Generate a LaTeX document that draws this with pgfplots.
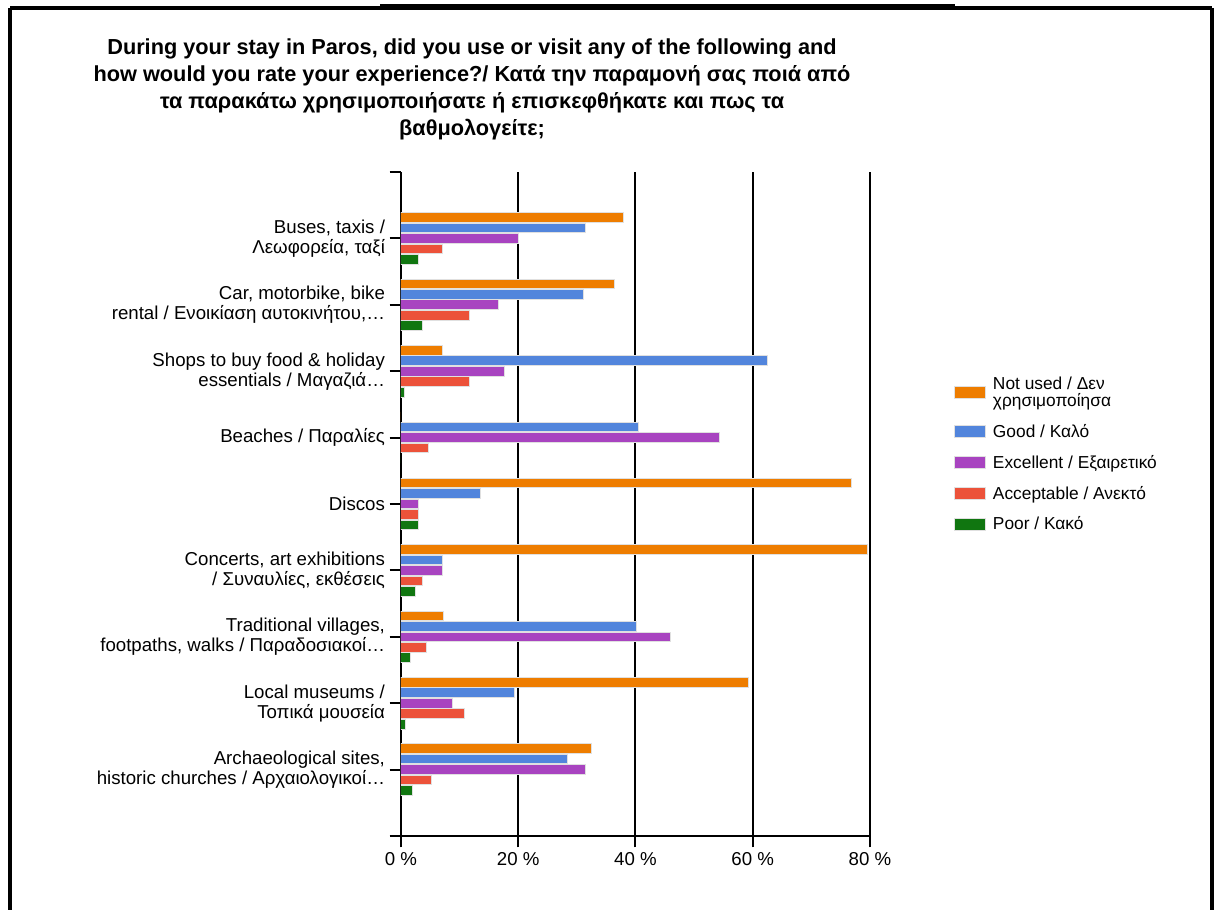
\documentclass[border=0pt]{standalone}
\usepackage{pgfplots}
\pgfplotsset{compat=1.18}
\usepackage{pgfplotstable}
\usepackage{fontspec}
\setmainfont{Liberation Sans}

\definecolor{cOrange}{RGB}{238,125,0}
\definecolor{cBlue}{RGB}{82,133,220}
\definecolor{cPurple}{RGB}{168,68,192}
\definecolor{cRed}{RGB}{236,82,58}
\definecolor{cGreen}{RGB}{16,118,16}

\pgfplotstableread{
cat notused good excellent acceptable poor
0 37.9 31.5 20.1 7.1 3.0
1 36.4 31.2 16.6 11.7 3.7
2 7.1 62.6 17.6 11.7 0.6
3 0.0 40.5 54.4 4.7 0.0
4 76.8 13.5 3.0 3.0 3.0
5 79.6 7.1 7.1 3.7 2.4
6 7.3 40.2 45.9 4.4 1.6
7 59.3 19.3 8.8 10.9 0.8
8 32.5 28.4 31.5 5.2 1.9
}\datatable

\begin{document}
\begin{tikzpicture}
\useasboundingbox (0,0) rectangle (913.5pt,-682.5pt);
% frame
\draw[line width=2.5pt] (7.5pt,-6pt) -- (909pt,-6pt);
\draw[line width=3pt] (285pt,-4.5pt) -- (716pt,-4.5pt);
\draw[line width=2.5pt] (7.5pt,-6pt) -- (7.5pt,-682.5pt);
\draw[line width=2.5pt] (909pt,-6pt) -- (909pt,-682.5pt);
% title
\node[align=center, font=\bfseries\fontsize{16.3}{20.25}\selectfont] at (354pt,-67pt)
{During your stay in Paros, did you use or visit any of the following and\\
how would you rate your experience?/ Κατά την παραμονή σας ποιά από\\
τα παρακάτω χρησιμοποιήσατε ή επισκεφθήκατε και πως τα\\
βαθμολογείτε;};
\begin{axis}[
  at={(300.75pt,-627pt)}, anchor=south west,
  scale only axis, width=351.75pt, height=498pt,
  xbar,
  xmin=0, xmax=80, ymin=-1, ymax=9, y dir=reverse,
  axis x line*=bottom, axis y line*=left,
  axis line style={line width=1.5pt, black},
  xtick={0,20,40,60,80},
  xticklabels={0 \%,20 \%,40 \%,60 \%,80 \%},
  xmajorgrids, major grid style={black, line width=1.5pt},
  ytick={-1,0,1,2,3,4,5,6,7,8,9},
  yticklabels={,
    {Buses, taxis /\\Λεωφορεία, ταξί},
    {Car, motorbike, bike\\rental / Ενοικίαση αυτοκινήτου,…},
    {Shops to buy food \& holiday\\essentials / Μαγαζιά…},
    {Beaches / Παραλίες},
    {Discos},
    {Concerts, art exhibitions\\/ Συναυλίες, εκθέσεις},
    {Traditional villages,\\footpaths, walks / Παραδοσιακοί…},
    {Local museums /\\Τοπικά μουσεία},
    {Archaeological sites,\\historic churches / Αρχαιολογικοί…},
  },
  tick align=outside, major tick length=8.5pt,
  tick style={black, line width=1.5pt},
  y tick label style={align=right, font=\fontsize{14}{15}\selectfont},
  x tick label style={font=\fontsize{14}{15}\selectfont},
  bar width=0.145,
  legend style={at={(1.17,0.70)}, anchor=north west, draw=none, fill=none,
    font=\fontsize{13}{13}\selectfont, row sep=7.8pt,
    cells={anchor=west, align=left}},
  legend image code/.code={\draw[#1, draw=black!12, line width=0.75pt] (0pt,-4.5pt) rectangle (23pt,4.5pt); \path (26.5pt,0pt);},
]
\addplot[fill=cOrange, draw=black!12, line width=0.75pt, bar shift=-0.316] table[x=notused, y=cat] {\datatable};
\addplot[fill=cBlue, draw=black!12, line width=0.75pt, bar shift=-0.158] table[x=good, y=cat] {\datatable};
\addplot[fill=cPurple, draw=black!12, line width=0.75pt, bar shift=0] table[x=excellent, y=cat] {\datatable};
\addplot[fill=cRed, draw=black!12, line width=0.75pt, bar shift=0.158] table[x=acceptable, y=cat] {\datatable};
\addplot[fill=cGreen, draw=black!12, line width=0.75pt, bar shift=0.316] table[x=poor, y=cat] {\datatable};
\legend{{Not used / Δεν\\χρησιμοποίησα},{Good / Καλό},{Excellent / Εξαιρετικό},{Acceptable / Ανεκτό},{Poor / Κακό}}
\end{axis}
\end{tikzpicture}
\end{document}
